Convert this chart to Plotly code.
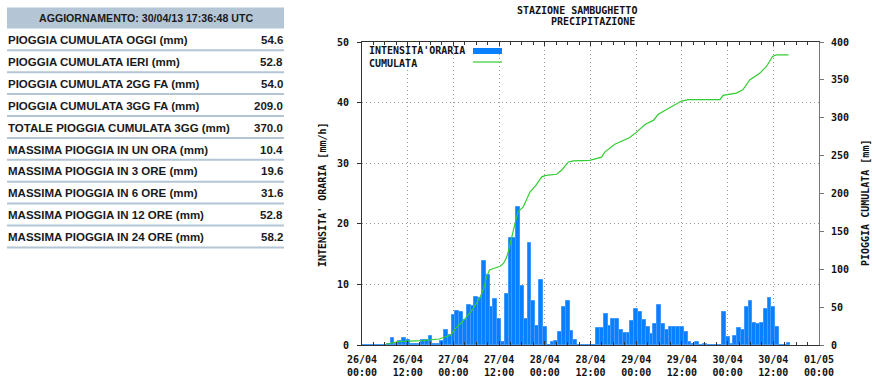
import plotly.graph_objects as go
import pandas as pd

# ---------------- data ----------------
table_header = "AGGIORNAMENTO: 30/04/13 17:36:48 UTC"
table_labels = [
    "PIOGGIA CUMULATA OGGI (mm)",
    "PIOGGIA CUMULATA IERI (mm)",
    "PIOGGIA CUMULATA 2GG FA (mm)",
    "PIOGGIA CUMULATA 3GG FA (mm)",
    "TOTALE PIOGGIA CUMULATA 3GG (mm)",
    "MASSIMA PIOGGIA IN UN ORA (mm)",
    "MASSIMA PIOGGIA IN 3 ORE (mm)",
    "MASSIMA PIOGGIA IN 6 ORE (mm)",
    "MASSIMA PIOGGIA IN 12 ORE (mm)",
    "MASSIMA PIOGGIA IN 24 ORE (mm)",
]
table_values = ["54.6", "52.8", "54.0", "209.0", "370.0", "10.4", "19.6", "31.6", "52.8", "58.2"]

start_time = "2013-04-26 00:00"
end_time = "2013-05-01 00:00"

# hourly intensity (mm/h), one value per hour from 26/04 00:00
hourly_intensity = [
    0, 0, 0, 0, 0, 0, 0,
    0.15, 1.2, 0.2, 0.6, 1.2, 0.8, 0.15, 0.15, 0.15, 0.8, 0.8, 1.5, 0.2, 0.2, 0.7, 2.5, 1.65,
    4.9, 5.6, 5.4, 4.1, 6.6, 6.5, 7.9, 7.7, 13.8, 11.6, 6.2, 7.6, 4.3, 0.5, 8.4, 17.6, 17.6, 22.8, 9.7, 4.3, 16.9, 7.3, 3.1, 10.7,
    2.9, 0, 0.5, 0.7, 2.2, 6.2, 7.3, 2.3, 0.8, 0, 0, 0, 0, 0, 2.75, 2.75, 5.1, 3.2, 4.3, 4.3, 2.5, 1.9, 1.9, 4.0,
    5.9, 5.4, 4.2, 2.9, 1.8, 3.5, 6.6, 3.5, 2.4, 2.9, 2.9, 2.9, 2.9, 2.1, 0.5, 0.15, 0.5, 0, 0.15, 0, 0, 0, 0, 5.5,
    1.3, 0.15, 1.5, 2.75, 2.4, 6.2, 7.3, 3.7, 3.5, 3.7, 5.9, 7.7, 6.2, 2.9, 0, 0, 0.4,
]

# cumulative rain (mm): hours after 26/04 00:00 and values
cumul_hours = [6.3, 9.5, 15.5, 20.3, 23.3, 24.6, 26.6, 29.2, 31.0, 32.0, 32.7, 33.5, 34.5, 36.3, 37.2, 38.0,
               38.4, 39.7, 40.6, 41.0, 42.3, 44.1, 45.7, 47.2, 48.3, 51.1, 52.4, 54.2, 55.5, 59.8,
               62.9, 63.8, 66.4, 70.3, 72.1, 74.3, 76.5, 77.8, 80.4, 83.9, 85.7, 94.0, 94.8, 96.1,
               98.3, 100.0, 101.8, 104.5, 106.2, 107.8, 108.8, 112.0]
cumul_values = [1, 4.4, 5.7, 7.9, 13.2, 22, 32, 48, 63, 75, 90, 99, 101, 104, 108, 116,
                123, 152, 169, 176, 182, 202, 211, 222, 224, 225.4, 230.7, 241.6, 243, 243.8,
                248, 255, 265, 274, 281, 291, 296.5, 304.5, 312, 322, 324, 324, 329.5, 331,
                332.6, 337, 350, 359, 367.7, 381, 383, 383]

title_lines = ["STAZIONE SAMBUGHETTO", "PRECIPITAZIONE"]
legend_labels = ["INTENSITA'ORARIA", "CUMULATA"]
y1_title = "INTENSITA' ORARIA [mm/h]"
y2_title = "PIOGGIA CUMULATA [mm]"

# ---------------- helpers ----------------
W, H = 875, 381
def fx(x):
    return x / W
def fy(y):
    return 1 - y / H

t0 = pd.Timestamp(start_time)
bar_x = pd.date_range(start_time, periods=len(hourly_intensity), freq="h")
line_x = [t0 + pd.Timedelta(hours=h) for h in cumul_hours]

MONO = dict(family="DejaVu Sans Mono", size=10, color="#111111", weight="bold")
SANS = dict(family="Liberation Sans", size=11.5, color="#1a1a1a", weight="bold")
SANS_H = dict(family="Liberation Sans", size=10.6, color="#1a1a1a", weight="bold")
BLUE = "#0a7fff"
GREEN = "#33cc33"
TABLE_BLUE = "#b4c6d6"

fig = go.Figure()
fig.add_trace(go.Bar(
    x=bar_x, y=hourly_intensity, width=3600000,
    marker=dict(color=BLUE, line=dict(color="#3f9aff", width=1)),
    yaxis="y", showlegend=False,
))
fig.add_trace(go.Scatter(
    x=line_x, y=cumul_values, mode="lines",
    line=dict(color=GREEN, width=1.2),
    yaxis="y2", showlegend=False,
))

# plot area in pixels
PL, PR, PT, PB = 362, 819, 42, 345

fig.update_layout(
    width=W, height=H, autosize=False,
    margin=dict(l=0, r=0, t=0, b=0, pad=0, autoexpand=False),
    paper_bgcolor="white", plot_bgcolor="white",
    bargap=0,
    showlegend=False,
    xaxis=dict(
        type="date", domain=[fx(PL), fx(PR)], automargin=False,
        range=[start_time, end_time],
        tick0=start_time, dtick=12 * 3600000,
        tickformat="%d/%m<br>%H:%M",
        tickfont=MONO, ticklabelstandoff=5,
        showline=True, linecolor="#333333", linewidth=1, mirror="ticks",
        ticks="inside", ticklen=4, tickcolor="#333333",
        minor=dict(dtick=3 * 3600000, ticks="inside", ticklen=3, tickcolor="#333333", showgrid=False),
        showgrid=True, gridcolor="#9a9a9a", griddash="1px,3px", gridwidth=1,
        zeroline=False,
    ),
    yaxis=dict(
        domain=[fy(PB), fy(PT)], range=[0, 50], dtick=10, automargin=False,
        tickfont=MONO, ticklabelstandoff=6,
        showline=True, linecolor="#333333", linewidth=1,
        ticks="outside", ticklen=4, tickcolor="#333333",
        showgrid=True, gridcolor="#9a9a9a", griddash="1px,3px", gridwidth=1,
        zeroline=False,
    ),
    yaxis2=dict(
        overlaying="y", side="right", anchor="x", automargin=False,
        range=[0, 400], dtick=50,
        tickfont=MONO, ticklabelstandoff=5,
        showline=True, linecolor="#777777", linewidth=1,
        ticks="outside", ticklen=4, tickcolor="#777777",
        showgrid=False, zeroline=False,
    ),
)

shapes = []
annotations = []

# ----- table -----
TL, TR = 7, 284
shapes.append(dict(type="rect", xref="paper", yref="paper",
                   x0=fx(TL), x1=fx(TR), y0=fy(28.5), y1=fy(7.5),
                   fillcolor=TABLE_BLUE, line=dict(width=0), layer="below"))
annotations.append(dict(xref="paper", yref="paper", x=fx((TL + TR) / 2), y=fy(18),
                        text=table_header, showarrow=False, xanchor="center", yanchor="middle",
                        font=SANS_H))
row_h = 21.9
for i, (lab, val) in enumerate(zip(table_labels, table_values)):
    yc = 40 + row_h * i
    annotations.append(dict(xref="paper", yref="paper", x=fx(6), y=fy(yc),
                            text=lab, showarrow=False, xanchor="left", yanchor="middle", font=SANS))
    annotations.append(dict(xref="paper", yref="paper", x=fx(284.5), y=fy(yc),
                            text=val, showarrow=False, xanchor="right", yanchor="middle", font=SANS))
    ys = 50.3 + row_h * i
    shapes.append(dict(type="line", xref="paper", yref="paper",
                       x0=fx(TL), x1=fx(TR), y0=fy(ys), y1=fy(ys),
                       line=dict(color=TABLE_BLUE, width=2)))

# ----- titles -----
annotations.append(dict(xref="paper", yref="paper", x=fx(577), y=fy(10), text=title_lines[0],
                        showarrow=False, xanchor="center", yanchor="middle", font=MONO))
annotations.append(dict(xref="paper", yref="paper", x=fx(593), y=fy(22), text=title_lines[1],
                        showarrow=False, xanchor="center", yanchor="middle", font=MONO))
annotations.append(dict(xref="paper", yref="paper", x=fx(322), y=fy(195), text=y1_title,
                        showarrow=False, textangle=-90, xanchor="center", yanchor="middle", font=MONO))
annotations.append(dict(xref="paper", yref="paper", x=fx(865), y=fy(203), text=y2_title,
                        showarrow=False, textangle=-90, xanchor="center", yanchor="middle", font=MONO))

# ----- legend (custom, inside plot) -----
shapes.append(dict(type="rect", xref="paper", yref="paper",
                   x0=fx(363), x1=fx(497), y0=fy(68), y1=fy(43),
                   fillcolor="white", line=dict(width=0), layer="below"))
shapes.append(dict(type="rect", xref="paper", yref="paper",
                   x0=fx(473), x1=fx(502), y0=fy(54), y1=fy(48),
                   fillcolor=BLUE, line=dict(width=0)))
shapes.append(dict(type="line", xref="paper", yref="paper",
                   x0=fx(473), x1=fx(502), y0=fy(62), y1=fy(62),
                   line=dict(color=GREEN, width=1.2)))
annotations.append(dict(xref="paper", yref="paper", x=fx(367), y=fy(51), text=legend_labels[0],
                        showarrow=False, xanchor="left", yanchor="middle", font=MONO))
annotations.append(dict(xref="paper", yref="paper", x=fx(367), y=fy(63), text=legend_labels[1],
                        showarrow=False, xanchor="left", yanchor="middle", font=MONO))

fig.update_layout(shapes=shapes, annotations=annotations)
fig.write_html("out.html", config={"displayModeBar": False},
               post_script="document.body.style.margin='0';document.body.style.padding='0';")
